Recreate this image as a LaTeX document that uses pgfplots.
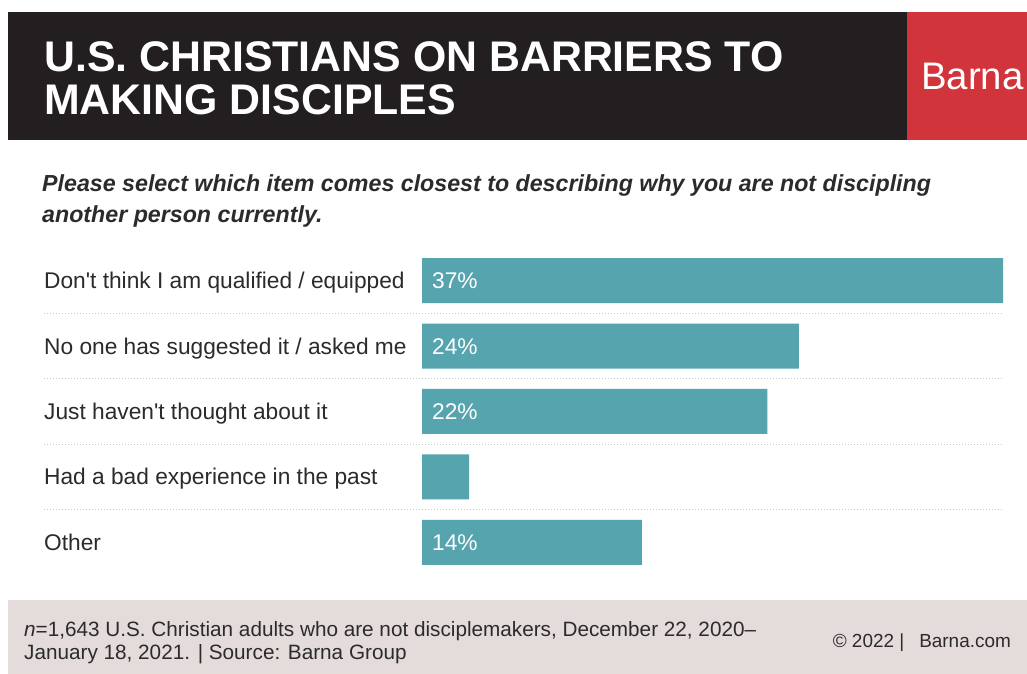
\documentclass[border=0pt]{standalone}
\usepackage{pgfplots}
\pgfplotsset{compat=1.18}
\usepackage{fontspec}
\setmainfont{Liberation Sans}[Ligatures=TeXOff]
\definecolor{hdrblack}{HTML}{231F20}
\definecolor{barnared}{HTML}{D1343A}
\definecolor{teal}{HTML}{55A4AE}
\definecolor{footbg}{HTML}{E3DCDB}
\definecolor{txt}{HTML}{2B2B2B}
\definecolor{dotgray}{HTML}{C8C8C8}
\begin{document}
\begin{tikzpicture}[x=1bp,y=1bp]
% canvas
\fill[white] (0,0) rectangle (1027,674);
% header
\fill[hdrblack] (8,534) rectangle (907,662);
\fill[barnared] (907,534) rectangle (1027,662);
\node[anchor=base west, inner sep=0, text=white, font=\bfseries\fontsize{43}{44}\selectfont] at (44,602) {U.S. CHRISTIANS ON BARRIERS TO};
\node[anchor=base west, inner sep=0, text=white, font=\bfseries\fontsize{43}{44}\selectfont] at (44,559) {MAKING DISCIPLES};
\node[anchor=base west, inner sep=0, text=white, font=\fontsize{38.5}{39}\selectfont] at (921,584) {Barna};
% subtitle
\node[anchor=base west, inner sep=0, text=txt, font=\bfseries\itshape\fontsize{23.3}{24}\selectfont] at (42,482) {Please select which item comes closest to describing why you are not discipling};
\node[anchor=base west, inner sep=0, text=txt, font=\bfseries\itshape\fontsize{23.3}{24}\selectfont] at (42,451) {another person currently.};
% separators
\foreach \yy in {360.6,295.2,229.8,164.4}{
  \draw[dotgray, line width=1bp, dash pattern=on 1.2bp off 1.8bp] (44,\yy) -- (1003,\yy);
}
% footer
\fill[footbg] (8,0) rectangle (1027,74);
\node[anchor=base west, inner sep=0, text=txt, font=\fontsize{20.8}{21}\selectfont] at (24,37) {\textit{n}=1,643 U.S. Christian adults who are not disciplemakers, December 22, 2020–};
\node[anchor=base west, inner sep=0, text=txt, font=\fontsize{20.8}{21}\selectfont] at (24,14) {January 18, 2021. | Source: Barna Group};
\node[anchor=base east, inner sep=0, text=txt, font=\fontsize{19}{20}\selectfont] at (1011,26) {© 2022 |\hspace{15bp}Barna.com};
% chart
\begin{axis}[
  at={(422bp,426bp)}, anchor=north west,
  scale only axis, width=581bp, height=327bp,
  xmin=0, xmax=37, ymin=-0.5, ymax=4.5,
  y dir=reverse,
  axis line style={draw=none},
  major tick length=0pt,
  xtick=\empty,
  ytick={0,1,2,3,4},
  yticklabels={Don't think I am qualified / equipped, No one has suggested it / asked me, Just haven't thought about it, Had a bad experience in the past, Other},
  yticklabel style={anchor=base west, xshift=-378bp, yshift=-8bp, inner sep=0pt, text=txt, font=\fontsize{22.8}{23}\selectfont},
  clip=false,
]
\addplot[xbar, bar width=45bp, fill=teal, draw=none, bar shift=0pt] coordinates {(37,0) (24,1) (22,2) (3,3) (14,4)};
\addplot[draw=none, mark=none, point meta=explicit symbolic,
  nodes near coords={\pgfplotspointmeta\%},
  nodes near coords style={anchor=base west, xshift=10bp, yshift=-8bp, inner sep=0pt, text=white, font=\fontsize{22.8}{23}\selectfont}]
  coordinates {(0,0) [37] (0,1) [24] (0,2) [22] (0,4) [14]};
\end{axis}
\end{tikzpicture}
\end{document}
